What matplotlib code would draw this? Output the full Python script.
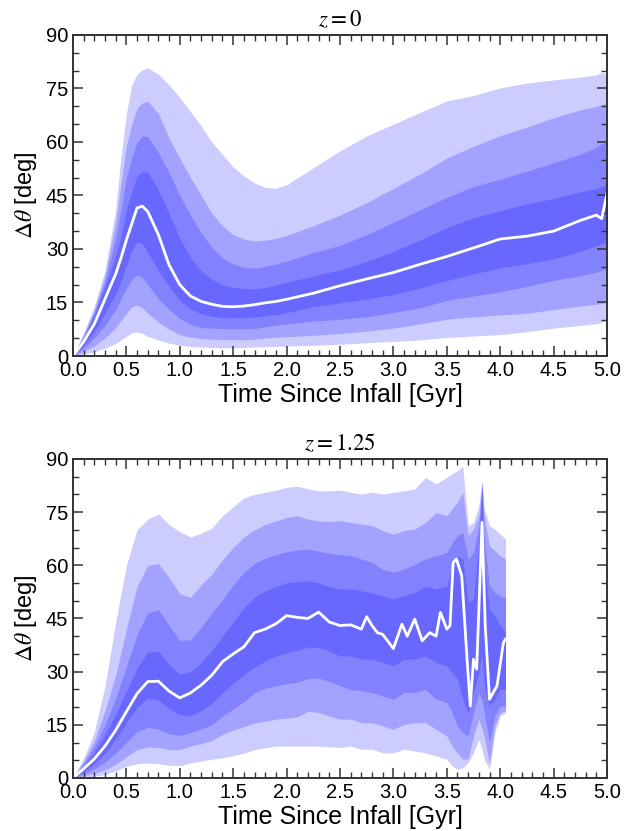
import matplotlib
matplotlib.use("Agg")
import matplotlib.pyplot as plt
from matplotlib.ticker import MultipleLocator, FormatStrFormatter

plt.rcParams["font.family"] = ["Liberation Sans", "DejaVu Sans"]
plt.rcParams["mathtext.fontset"] = "stix"

# ---- z = 0 panel: percentile band edges (deg) vs time since infall (Gyr)
t_top = [0.0, 0.1, 0.2, 0.3, 0.4, 0.45, 0.5, 0.55, 0.6, 0.65, 0.7,
         0.8, 0.9, 1.0, 1.1, 1.2, 1.3, 1.4, 1.5, 1.6, 1.7, 1.8, 1.9, 2.0,
         2.25, 2.5, 2.75, 3.0, 3.25, 3.5, 3.75, 4.0, 4.25, 4.5, 4.75,
         4.9, 4.95, 5.0]
med_top = [0, 4, 9, 16, 23, 27.5, 32.5, 37, 41.5, 42, 40.5,
           34, 25.5, 20, 16.8, 15.3, 14.5, 13.9, 13.8, 14.0, 14.4, 14.9, 15.3, 15.9,
           17.6, 19.7, 21.6, 23.4, 25.7, 27.9, 30.3, 32.8, 33.6, 35.0, 38.0,
           39.5, 38.5, 45.5]
u1_top = [0, 5, 11.5, 19.5, 28, 33.5, 41, 46, 50.5, 51.8, 51.5,
          46.5, 40, 33, 27.5, 24, 21.5, 20, 19.2, 18.9, 18.8, 19.2, 19.9, 20.7,
          22.4, 24.2, 26.5, 29.3, 32.5, 36.0, 38.7, 40.8, 42.6, 44.2, 46.0,
          47.0, 47.5, 48]
u2_top = [0, 5.6, 12.3, 21, 33, 41, 50, 55.5, 60, 61.6, 61.5,
          57, 51.5, 45, 39.5, 34.5, 30.5, 27.5, 25.8, 24.9, 24.6, 25.2, 25.8, 26.6,
          29.0, 31.0, 34.0, 37.5, 41.0, 44.5, 47.5, 49.6, 51.8, 54.2, 56.5,
          58.5, 59.5, 60]
u3_top = [0, 6, 13, 22.5, 37.5, 48.5, 59, 65, 69.5, 71, 71.4,
          68, 61, 55.5, 50, 45, 40, 36.5, 34, 32.8, 32.2, 32.5, 33.0, 33.8,
          36.5, 39.5, 43.0, 47.0, 51.0, 55.5, 58.8, 61.8, 64.2, 66.8, 69.0,
          70.0, 70.5, 71]
u4_top = [0, 6.5, 14, 24, 41, 56, 68, 76, 79, 80.3, 80.8,
          79, 76, 72.5, 68.5, 64.5, 60, 56.5, 53, 50.5, 48.5, 47.3, 47.0, 48.0,
          52.8, 57.5, 61.7, 65, 68.3, 71.5, 73.0, 75.2, 76.5, 77.4, 78.2,
          78.8, 79.5, 79]
l1_top = [0, 3, 6.8, 12, 17.5, 21, 25.5, 29.5, 32, 31.5, 29,
          24, 19.5, 15.5, 13.2, 11.8, 11.1, 10.8, 10.7, 10.8, 10.9, 11.2, 11.6, 12.2,
          13.8, 14.9, 16.0, 17.3, 19.0, 21.2, 23.0, 24.7, 25.9, 27.2, 29.3,
          31.0, 31.5, 32]
l2_top = [0, 2.2, 5, 8.5, 13, 16, 19, 21.5, 22.7, 22, 20,
          16, 13, 10.5, 8.8, 8.0, 7.8, 7.7, 7.6, 7.6, 7.7, 8.2, 8.6, 9.0,
          9.8, 10.3, 11.0, 12.2, 13.5, 15.6, 16.8, 18.0, 19.5, 21.2, 22.5,
          23.5, 24.0, 24.5]
l3_top = [0, 1.2, 2.8, 5, 8, 10, 12, 13.8, 14.2, 13.5, 12,
          9.5, 7.5, 6.0, 5.3, 4.9, 4.7, 4.6, 4.6, 4.6, 4.7, 5.0, 5.3, 5.4,
          5.8, 6.3, 7.0, 7.8, 9.0, 10.3, 11.0, 11.5, 12.0, 13.0, 14.0,
          14.5, 14.7, 15]
l4_top = [0, 0.5, 1.2, 2.2, 3.5, 4.5, 5.5, 6.5, 6.7, 6.3, 5.5,
          4.5, 3.6, 3.0, 2.7, 2.5, 2.4, 2.3, 2.3, 2.4, 2.5, 2.6, 2.7, 2.8,
          3.0, 3.3, 3.7, 4.1, 4.5, 5.2, 5.6, 6.0, 6.8, 7.8, 8.6,
          9.0, 9.5, 10]

# ---- z = 1.25 panel
t_bot = [0.0, 0.1, 0.2, 0.3, 0.4, 0.5, 0.6, 0.7, 0.8, 0.9,
         1.0, 1.1, 1.2, 1.3, 1.4, 1.5, 1.6, 1.7, 1.8, 1.9,
         2.0, 2.1, 2.2, 2.3, 2.4, 2.5, 2.6, 2.7, 2.8, 2.9,
         3.0, 3.1, 3.2, 3.3, 3.4, 3.5,
         3.55, 3.6, 3.65, 3.7, 3.75, 3.8, 3.83, 3.85, 3.9, 3.95, 4.0, 4.05]
u4_bot = [0, 5.5, 13, 26, 44, 60, 70, 73, 74.5, 71.5,
          69.5, 68, 69, 70.5, 74, 76.5, 79, 80, 80.6, 81.2,
          82, 82.3, 81.6, 81, 81, 81.2, 80.6, 80.1, 80.6, 80.1,
          80.6, 81, 81.5, 84.8, 83, 84.8,
          85.8, 86.7, 88, 71.2, 72, 76.8, 84, 76, 71.2, 70.2, 68.8, 67.4]
u3_bot = [0, 4.8, 10.5, 19, 29, 42, 54, 60, 60.5, 56.5,
          52, 51, 54.5, 57.5, 61.5, 65, 68, 70, 71.5, 72.5,
          73.5, 74, 73, 72.5, 72.3, 72.6, 72.1, 71.6, 71.2, 69.8,
          68.8, 69.8, 70.2, 72.1, 74.9, 74,
          75.9, 77.8, 80.6, 68.3, 70.2, 74, 83.5, 74, 65.5, 64.1, 62.7, 61.8]
u2_bot = [0, 4, 8.8, 15, 22.5, 31.5, 40.5, 46.5, 47.5, 43,
          38.8, 39, 42.5, 46.5, 50.3, 54.5, 58, 60.5, 62, 63,
          63.8, 64.3, 64.6, 64, 63.4, 63, 62.7, 61.8, 60.8, 58.9,
          58, 58.9, 60.3, 61.8, 62.7, 63.6,
          66.5, 68.3, 69.3, 61.8, 63.6, 71, 83, 68, 54.2, 52.3, 51.4, 50.9]
u1_bot = [0, 3.3, 7.2, 12.2, 18, 24.5, 31, 35.5, 35.8, 32,
          29.3, 30, 32.5, 36, 40, 44, 48, 51, 52.8, 54,
          55, 55.4, 55.6, 55, 54, 53.3, 53.3, 52.8, 52.3, 51.4,
          50.5, 51.4, 52.3, 54.2, 53.3, 54.2,
          58.9, 62.7, 61.8, 49.5, 50.5, 66, 82.5, 60, 47.6, 45.7, 42.9, 41]
l1_bot = [0, 1.8, 4, 7, 11, 15.5, 20, 22.5, 22, 19.5,
          17.8, 17.6, 19, 21, 24, 26.8, 29.2, 31.3, 33, 34.4,
          35.3, 36, 37, 36.8, 35.8, 34.4, 34.4, 33.5, 33.5, 32.6,
          31.6, 33.5, 33.5, 34.4, 32.6, 31.6,
          29.7, 27.9, 22.2, 18.4, 24.1, 29.7, 35, 26, 20.3, 22.2, 25, 25]
l2_bot = [0, 1.2, 2.6, 4.5, 7, 10, 13, 14.3, 13.8, 12.5,
          12, 12.8, 13.8, 15, 17.5, 19.5, 21.5, 24, 25.3, 26,
          26.6, 27, 28, 28.2, 27.2, 26, 25, 24.6, 24.1, 23.1,
          22.2, 24.1, 24.1, 25, 22.2, 21.3,
          18.4, 14.7, 12.8, 11.8, 18.4, 24.1, 22, 18.4, 10, 17.5, 20.3, 20.3]
l3_bot = [0, 0.6, 1.3, 2.3, 3.8, 6, 8, 8.8, 8.6, 8,
          8, 9, 9.7, 10.6, 12.3, 13.5, 14.5, 15.5, 16, 16.6,
          16.9, 17.2, 18.8, 18.5, 17.5, 16.6, 16.6, 15.6, 15.6, 14.7,
          13.7, 15.1, 15.6, 15.6, 13.7, 11.8,
          9, 7.1, 5.3, 5.3, 11.8, 16.6, 14, 11.8, 4, 14.7, 18.4, 18.9]
l4_bot = [0, 0.2, 0.5, 1.0, 2.0, 3.3, 4.0, 4.2, 4.0, 3.6,
          3.5, 4.2, 4.8, 5.3, 5.7, 6.3, 7.0, 8.0, 8.5, 9.0,
          9.0, 9.0, 9.0, 9.0, 8.8, 8.6, 9, 8.1, 8.1, 7.1,
          7.1, 8.1, 7.6, 7.1, 6.2, 5.3,
          3.4, 2.4, 2.9, 4.3, 7.1, 10.9, 8, 5.3, 2.5, 12.8, 17.5, 18.4]

t_med_bot = [0.0, 0.1, 0.2, 0.3, 0.4, 0.5, 0.6, 0.7, 0.8, 0.9,
             1.0, 1.1, 1.2, 1.3, 1.4, 1.5, 1.6, 1.7, 1.8, 1.9,
             2.0, 2.1, 2.2, 2.3, 2.4, 2.5, 2.6, 2.7, 2.75, 2.8,
             2.85, 2.9, 3.0, 3.08, 3.13, 3.2, 3.27, 3.34, 3.4, 3.44,
             3.5, 3.53, 3.56, 3.59, 3.64, 3.69, 3.72, 3.75, 3.78, 3.83,
             3.86, 3.9, 3.97, 4.03, 4.05]
med_bot = [0, 2.6, 5.4, 9, 13.5, 18.7, 23.8, 27.2, 27.3, 24.5,
           22.6, 24.0, 26.2, 29, 32.8, 35, 37, 41, 42, 43.5,
           45.8, 45.3, 45, 46.8, 44, 43, 43.2, 42, 45.5, 43,
           41, 40.5, 36.5, 43.4, 40, 44.8, 38.7, 41, 40, 46.7,
           42, 43, 60.8, 61.8, 57, 33.5, 20.3, 33.5, 30.7, 72.1,
           42.9, 22.2, 26, 38.2, 39.2]

panels = [
    (r"$z = 0$", t_top, [(l4_top, u4_top), (l3_top, u3_top), (l2_top, u2_top), (l1_top, u1_top)],
     t_top, med_top),
    (r"$z = 1.25$", t_bot, [(l4_bot, u4_bot), (l3_bot, u3_bot), (l2_bot, u2_bot), (l1_bot, u1_bot)],
     t_med_bot, med_bot),
]

fig = plt.figure(figsize=(6.34, 8.31), dpi=100)
axes = [fig.add_axes([0.1151, 0.5716, 0.8423, 0.3863]),
        fig.add_axes([0.1151, 0.0638, 0.8423, 0.3839])]

for ax, (title, t, bands, tm, med) in zip(axes, panels):
    # nested percentile bands, alpha stacking gives the darker core
    for lo, hi in bands:
        ax.fill_between(t, lo, hi, color="blue", alpha=0.2, lw=0)
    ax.plot(tm, med, color="white", lw=2)

    ax.set_xlim(0, 5)
    ax.set_ylim(0, 90)
    ax.xaxis.set_major_locator(MultipleLocator(0.5))
    ax.xaxis.set_minor_locator(MultipleLocator(0.1))
    ax.yaxis.set_major_locator(MultipleLocator(15))
    ax.yaxis.set_minor_locator(MultipleLocator(5))
    ax.xaxis.set_major_formatter(FormatStrFormatter("%.1f"))
    ax.tick_params(which="both", direction="in", top=True, right=True,
                   labelsize=14.5, color="#333333")
    ax.tick_params(which="major", length=7, width=1.1)
    ax.tick_params(which="minor", length=4, width=1.0)
    for sp in ax.spines.values():
        sp.set_linewidth(1.4)
        sp.set_color("#333333")

    ax.set_xlabel("Time Since Infall [Gyr]", fontsize=18, labelpad=2)
    ax.set_ylabel(r"$\Delta\theta$ [deg]", fontsize=17, labelpad=5)
    ax.set_title(title, fontsize=16.5, pad=6)

fig.savefig("out.png", dpi=100)
